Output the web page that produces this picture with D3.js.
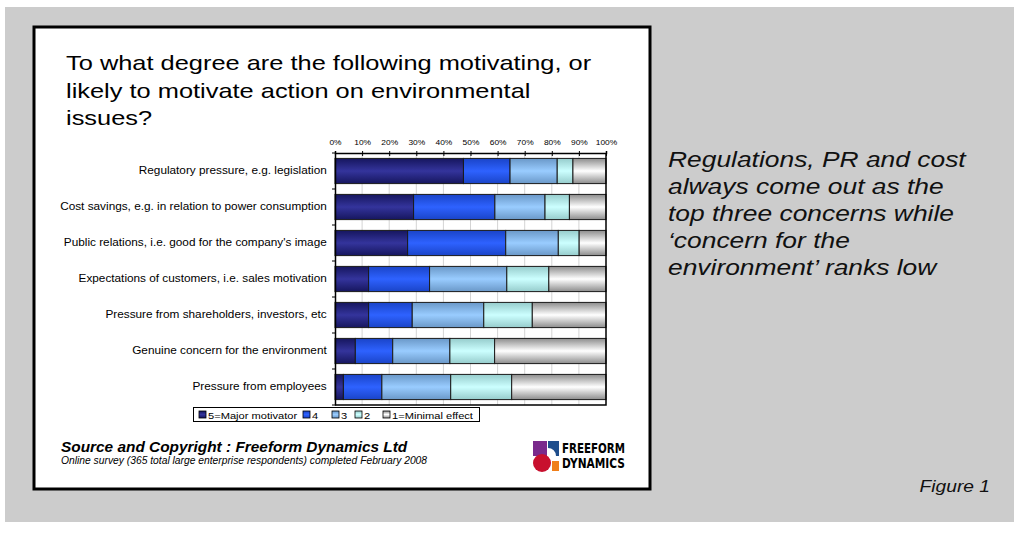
<!DOCTYPE html>
<html>
<head>
<meta charset="utf-8">
<script src="https://cdn.jsdelivr.net/npm/d3@7"></script>
<style>
  body { margin: 0; background: #fff; }
  svg { display: block; font-family: Arial, "Liberation Sans", sans-serif; }
</style>
</head>
<body>
<svg width="1014" height="533"></svg>
<script>
// data (percent of respondents)
var categories = [
  "Regulatory pressure, e.g. legislation",
  "Cost savings, e.g. in relation to power consumption",
  "Public relations, i.e. good for the company's image",
  "Expectations of customers, i.e. sales motivation",
  "Pressure from shareholders, investors, etc",
  "Genuine concern for the environment",
  "Pressure from employees"
];
var seriesNames = ["5=Major motivator", "4", "3", "2", "1=Minimal effect"];
var major    = [47.4, 29.0, 26.8, 12.4, 12.4, 7.5, 3.1];
var four     = [17.2, 30.0, 36.2, 22.5, 16.1, 13.8, 14.2];
var three    = [17.4, 18.5, 19.4, 28.5, 26.4, 21.1, 25.4];
var two      = [5.8, 9.0, 7.7, 15.5, 17.9, 16.5, 22.5];
var minimal  = [12.2, 13.5, 9.9, 21.1, 27.2, 41.1, 34.8];
var tickLabels = ["0%", "10%", "20%", "30%", "40%", "50%", "60%", "70%", "80%", "90%", "100%"];

var titleLines = ["To what degree are the following motivating, or",
                  "likely to motivate action on environmental", "issues?"];
var noteLines = ["Regulations, PR and cost", "always come out as the",
                 "top three concerns while", "\u2018concern for the",
                 "environment\u2019 ranks low"];

var seriesData = [major, four, three, two, minimal];
var rows = categories.map(function(c, i) {
  var r = { cat: c };
  seriesNames.forEach(function(s, k) { r[s] = seriesData[k][i]; });
  return r;
});

// the source picture is stretched sideways, so text gets a horizontal scale
var SX = 1.2;

// colour: [edge, centre]
var colors = [["#16165e", "#34349c"], ["#1a44c8", "#2e62ff"], ["#6a98c8", "#99ccff"],
              ["#96cccc", "#ccffff"], ["#8c8c8c", "#ffffff"]];

var svg = d3.select("svg");
var defs = svg.append("defs");
colors.forEach(function(c, i) {
  var g = defs.append("linearGradient").attr("id", "g" + i)
    .attr("x1", 0).attr("x2", 0).attr("y1", 0).attr("y2", 1);
  g.append("stop").attr("offset", "0%").attr("stop-color", c[0]);
  g.append("stop").attr("offset", "50%").attr("stop-color", c[1]);
  g.append("stop").attr("offset", "100%").attr("stop-color", c[0]);
});

function stretched(sel, x, y, sx) {
  return sel.append("text").attr("transform", "translate(" + x + "," + y + ") scale(" + sx + ",1)");
}

// page background and white card
svg.append("rect").attr("x", 5).attr("y", 7).attr("width", 1009).attr("height", 515).attr("fill", "#cccccc");
svg.append("rect").attr("x", 34).attr("y", 27).attr("width", 616).attr("height", 462)
  .attr("fill", "#fff").attr("stroke", "#000").attr("stroke-width", 3);

// title
titleLines.forEach(function(t, i) {
  stretched(svg, 66, 70 + i * 27.5, 1.21).attr("font-size", 21).attr("fill", "#000").text(t);
});

var x = d3.scaleLinear().domain([0, 100]).range([335, 606]);
var y = d3.scaleBand().domain(categories).range([153, 405]).paddingInner(0.3).paddingOuter(0.15);

// plot background + grid
svg.append("rect").attr("x", 335).attr("y", 153).attr("width", 271).attr("height", 252).attr("fill", "#fff");
svg.append("g").selectAll("line").data(d3.range(10, 100, 10)).enter().append("line")
  .attr("x1", function(d) { return x(d); }).attr("x2", function(d) { return x(d); })
  .attr("y1", 153).attr("y2", 405).attr("stroke", "#d4d4d4").attr("stroke-width", 1);

// bars
var stack = d3.stack().keys(seriesNames)(rows);
svg.append("g").selectAll("g").data(stack).enter().append("g")
  .attr("fill", function(d, i) { return "url(#g" + i + ")"; })
  .selectAll("rect").data(function(d) { return d; }).enter().append("rect")
  .attr("x", function(d) { return x(d[0]); })
  .attr("y", function(d) { return y(d.data.cat); })
  .attr("width", function(d) { return x(d[1]) - x(d[0]); })
  .attr("height", y.bandwidth())
  .attr("stroke", "#1a1a1a").attr("stroke-width", 1);

// top axis
var xAxis = svg.append("g").attr("transform", "translate(0,153)")
  .call(d3.axisTop(x).tickValues(d3.range(0, 101, 10)).tickSize(2)
    .tickFormat(function(d, i) { return tickLabels[i]; }));
xAxis.select(".domain").attr("stroke", "#000").attr("stroke-width", 1.5);
xAxis.selectAll(".tick line").attr("y2", 3).attr("y1", -2);
xAxis.selectAll("text").attr("font-family", "Arial, 'Liberation Sans', sans-serif")
  .attr("font-size", 7).attr("fill", "#000").attr("y", -8)
  .attr("transform", "scale(" + SX + ",1)");

// left axis
var yAxis = svg.append("g").attr("transform", "translate(335,0)")
  .call(d3.axisLeft(y).tickSize(0).tickPadding(7));
yAxis.select(".domain").attr("stroke", "#000").attr("stroke-width", 1.5);
yAxis.selectAll("text").attr("font-family", "Arial, 'Liberation Sans', sans-serif")
  .attr("font-size", 10).attr("fill", "#000")
  .attr("transform", "scale(1.18,1)");
svg.append("g").selectAll("line").data(d3.range(categories.length + 1)).enter().append("line")
  .attr("x1", 332).attr("x2", 335)
  .attr("y1", function(d) { return 153 + d * y.step(); })
  .attr("y2", function(d) { return 153 + d * y.step(); })
  .attr("stroke", "#000");

// plot frame right + bottom
svg.append("path").attr("d", "M606,153V405H335").attr("fill", "none").attr("stroke", "#000").attr("stroke-width", 1.5);

// legend
var lg = svg.append("g");
lg.append("rect").attr("x", 193.5).attr("y", 407.5).attr("width", 286).attr("height", 14)
  .attr("fill", "#fff").attr("stroke", "#000");
var legX = [199, 303, 332, 355, 383];
var items = lg.selectAll("g.it").data(seriesNames).enter().append("g").attr("class", "it")
  .attr("transform", function(d, i) { return "translate(" + legX[i] + ",411)"; });
items.append("rect").attr("width", 7).attr("height", 7)
  .attr("fill", function(d, i) { return "url(#g" + i + ")"; }).attr("stroke", "#000").attr("stroke-width", 0.8);
items.append("text").attr("transform", "translate(9,7.5) scale(1.17,1)")
  .attr("font-size", 9.5).attr("fill", "#000").text(function(d) { return d; });

// source
stretched(svg, 61, 452, 1.1).attr("font-size", 14).attr("font-weight", "bold")
  .attr("font-style", "italic").text("Source and Copyright : Freeform Dynamics Ltd");
stretched(svg, 61, 464, 1.03).attr("font-size", 10)
  .attr("font-style", "italic").text("Online survey (365 total large enterprise respondents) completed February 2008");

// logo
var logo = svg.append("g");
logo.append("rect").attr("x", 533).attr("y", 441).attr("width", 14).attr("height", 15).attr("fill", "#7a2a8c");
logo.append("path").attr("d", "M548,441H559V456H556A8,8 0 0 0 548,448Z").attr("fill", "#1f4e8c");
logo.append("circle").attr("cx", 542).attr("cy", 463).attr("r", 9).attr("fill", "#c8102e");
logo.append("rect").attr("x", 552).attr("y", 461).attr("width", 7).attr("height", 10).attr("fill", "#f07f1a");
logo.append("text").attr("x", 562).attr("y", 453).attr("font-size", 14).attr("font-weight", "bold")
  .attr("font-family", "'DejaVu Sans Condensed', 'Liberation Sans Narrow', Arial, sans-serif")
  .attr("textLength", 63).attr("lengthAdjust", "spacingAndGlyphs").text("FREEFORM");
logo.append("text").attr("x", 562).attr("y", 468).attr("font-size", 14).attr("font-weight", "bold")
  .attr("font-family", "'DejaVu Sans Condensed', 'Liberation Sans Narrow', Arial, sans-serif")
  .attr("textLength", 63).attr("lengthAdjust", "spacingAndGlyphs").text("DYNAMICS");

// note on the right
noteLines.forEach(function(t, i) {
  stretched(svg, 668, 167 + i * 27, SX).attr("font-size", 22).attr("font-style", "italic")
    .attr("fill", "#111").text(t);
});
svg.append("text").attr("transform", "translate(990,492) scale(" + SX + ",1)").attr("text-anchor", "end")
  .attr("font-size", 16).attr("font-style", "italic").attr("fill", "#111").text("Figure 1");
</script>
</body>
</html>
